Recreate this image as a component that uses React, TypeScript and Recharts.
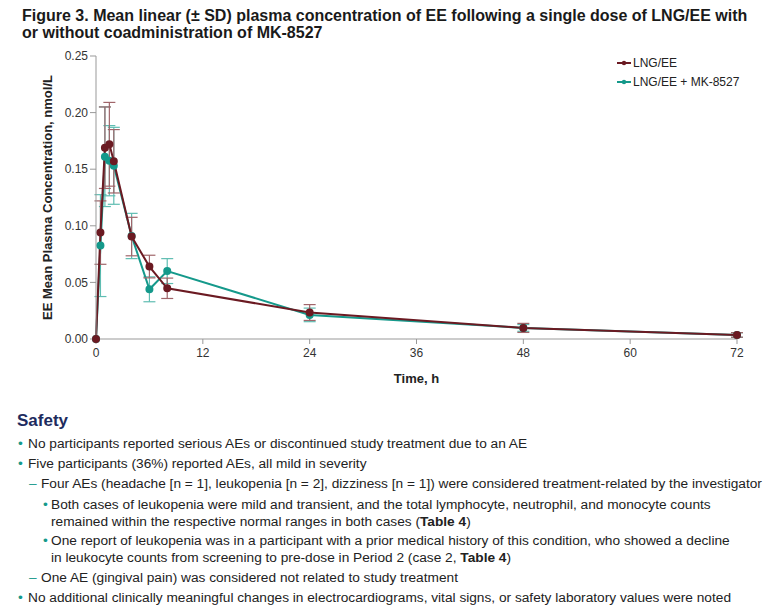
import React from 'react';
import {
  LineChart,
  Line,
  XAxis,
  YAxis,
  ErrorBar,
  Label,
} from 'recharts';

const times = [0, 0.5, 1, 1.5, 2, 4, 6, 8, 24, 48, 72];
const lngMean = [0, 0.094, 0.169, 0.172, 0.157, 0.0905, 0.064, 0.0448, 0.0234, 0.0098, 0.0036];
const lngSd = [0, 0.028, 0.036, 0.037, 0.028, 0.017, 0.01, 0.009, 0.007, 0.004, 0.002];
const mkMean = [0, 0.0825, 0.161, 0.1575, 0.153, 0.091, 0.0439, 0.06, 0.0213, 0.0098, 0.0035];
const mkSd = [0, 0.045, 0.044, 0.031, 0.034, 0.02, 0.011, 0.011, 0.006, 0.003, 0.002];
const xTicks = [0, 12, 24, 36, 48, 60, 72];
const yTicks = [0, 0.05, 0.1, 0.15, 0.2, 0.25];

const MAROON = '#6b1a22';
const TEAL = '#15998b';
const FONT = '"Liberation Sans", Arial, sans-serif';

const data = times.map((t, i) => ({
  time: t,
  lng: lngMean[i],
  lngSd: lngSd[i],
  mk: mkMean[i],
  mkSd: mkSd[i],
}));

const legendItems = [
  { label: 'LNG/EE', color: MAROON },
  { label: 'LNG/EE + MK-8527', color: TEAL },
];

const mark = (ch: string, left: number) => (
  <span style={{ color: TEAL, position: 'absolute', left }}>{ch}</span>
);

const row = (left: number, top: number, markLeft: number, ch: string, body: React.ReactNode) => (
  <div style={{ position: 'absolute', left, top, whiteSpace: 'nowrap' }}>
    {mark(ch, markLeft)}
    {body}
  </div>
);

export default function App() {
  return (
    <div
      style={{
        position: 'absolute',
        left: 0,
        top: 0,
        width: 779,
        height: 613,
        background: '#fff',
        fontFamily: FONT,
        color: '#222',
        overflow: 'hidden',
      }}
    >
      <div
        style={{
          position: 'absolute',
          left: 22,
          top: 7,
          fontSize: 16,
          fontWeight: 'bold',
          lineHeight: '17px',
          color: '#1a1a1a',
        }}
      >
        Figure 3. Mean linear (± SD) plasma concentration of EE following a single dose of LNG/EE with
        <br />
        or without coadministration of MK-8527
      </div>

      <div style={{ position: 'absolute', left: 0, top: 0 }}>
        <LineChart
          width={779}
          height={400}
          data={data}
          margin={{ top: 56, right: 42, bottom: 31, left: 36 }}
        >
          <XAxis
            dataKey="time"
            type="number"
            domain={[0, 72]}
            ticks={xTicks}
            height={30}
            tick={{ fill: '#333', fontSize: 12, fontFamily: FONT, dy: 2 }}
            tickSize={5}
            axisLine={{ stroke: '#999' }}
            tickLine={{ stroke: '#999' }}
          >
            <Label
              value="Time, h"
              position="insideBottom"
              offset={-14}
              style={{ fontWeight: 'bold', fontSize: 13, fill: '#222', fontFamily: FONT }}
            />
          </XAxis>
          <YAxis
            type="number"
            domain={[0, 0.25]}
            ticks={yTicks}
            width={60}
            tickFormatter={(v: number) => v.toFixed(2)}
            tick={{ fill: '#333', fontSize: 12, fontFamily: FONT }}
            tickSize={6}
            axisLine={{ stroke: '#999' }}
            tickLine={{ stroke: '#999' }}
          >
            <Label
              value="EE Mean Plasma Concentration, nmol/L"
              angle={-90}
              position="insideLeft"
              offset={11}
              style={{ fontWeight: 'bold', fontSize: 13, fill: '#222', textAnchor: 'middle', fontFamily: FONT }}
            />
          </YAxis>
          <Line
            dataKey="mk"
            stroke={TEAL}
            strokeWidth={2}
            dot={{ r: 3, fill: TEAL, stroke: TEAL }}
            isAnimationActive={false}
          >
            <ErrorBar dataKey="mkSd" width={6} stroke="#5fbdb2" strokeWidth={1.2} direction="y" />
          </Line>
          <Line
            dataKey="lng"
            stroke={MAROON}
            strokeWidth={2}
            dot={{ r: 3, fill: MAROON, stroke: MAROON }}
            isAnimationActive={false}
          >
            <ErrorBar dataKey="lngSd" width={6} stroke="#a0656a" strokeWidth={1.2} direction="y" />
          </Line>
        </LineChart>
      </div>

      <div style={{ position: 'absolute', left: 616, top: 53, fontSize: 12 }}>
        {legendItems.map((it) => (
          <div key={it.label} style={{ display: 'flex', alignItems: 'center', height: 19 }}>
            <svg width={16} height={10} style={{ marginRight: 1 }}>
              <line x1={1} y1={5} x2={15} y2={5} stroke={it.color} strokeWidth={2} />
              <circle cx={8} cy={5} r={2.2} fill={it.color} />
            </svg>
            <span>{it.label}</span>
          </div>
        ))}
      </div>

      <div
        style={{
          position: 'absolute',
          left: 17,
          top: 411,
          fontSize: 17,
          fontWeight: 'bold',
          color: '#1d2b5e',
        }}
      >
        Safety
      </div>
      <div style={{ position: 'absolute', left: 0, top: 435, fontSize: 13.7, lineHeight: '17px', color: '#222' }}>
        {row(28, 0, -10, '•', 'No participants reported serious AEs or discontinued study treatment due to an AE')}
        {row(28, 20, -10, '•', 'Five participants (36%) reported AEs, all mild in severity')}
        {row(41, 40, -12, '–', 'Four AEs (headache [n = 1], leukopenia [n = 2], dizziness [n = 1]) were considered treatment-related by the investigator')}
        {row(51, 61, -8, '•', (
          <>
            Both cases of leukopenia were mild and transient, and the total lymphocyte, neutrophil, and monocyte counts
            <br />
            remained within the respective normal ranges in both cases (<b>Table 4</b>)
          </>
        ))}
        {row(51, 97, -8, '•', (
          <>
            One report of leukopenia was in a participant with a prior medical history of this condition, who showed a decline
            <br />
            in leukocyte counts from screening to pre-dose in Period 2 (case 2, <b>Table 4</b>)
          </>
        ))}
        {row(41, 134, -12, '–', 'One AE (gingival pain) was considered not related to study treatment')}
        {row(28, 154, -10, '•', 'No additional clinically meaningful changes in electrocardiograms, vital signs, or safety laboratory values were noted')}
      </div>
    </div>
  );
}
